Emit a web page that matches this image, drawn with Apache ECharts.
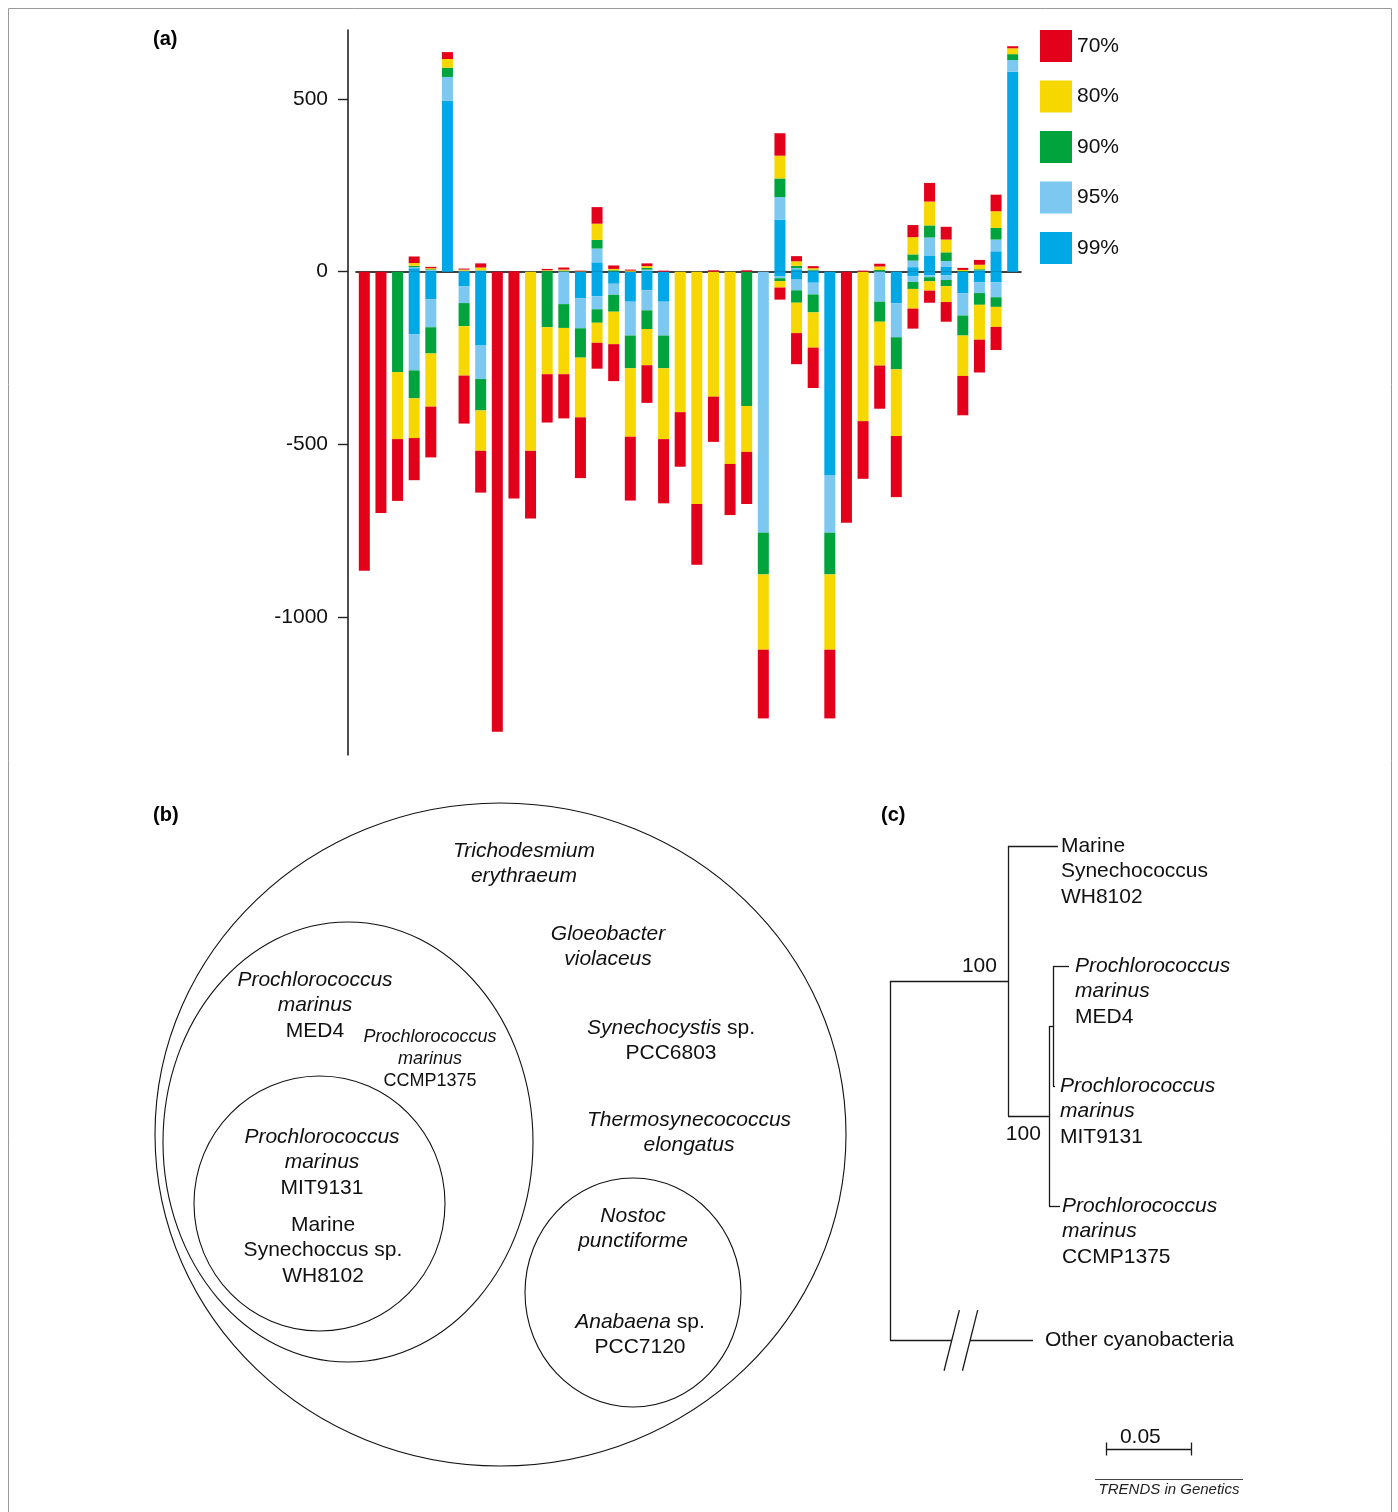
<!DOCTYPE html>
<html><head><meta charset="utf-8">
<script src="https://cdn.jsdelivr.net/npm/echarts@6/dist/echarts.min.js"></script>
<style>html,body{margin:0;padding:0;background:#fff}#c{width:1398px;height:1512px}</style>
</head><body><div id="c"></div>
<script>
// ---------- Panel (a) data: number of genes per identity class (stacked segment sizes) ----------
const categories = ['1','2','3','4','5','6','7','8','9','10','11','12','13','14','15','16','17','18','19','20',
  '21','22','23','24','25','26','27','28','29','30','31','32','33','34','35','36','37','38','39','40'];
const levelNames = ['70%','80%','90%','95%','99%'];
const yTickValues = [-1000, -500, 0, 500];

const pos99 = [0,0,0,10,3,495,1,2,0,0, 0,0,0,0,27,1,0,3,0,0, 0,0,0,0,0,151,7,3,0,0, 0,1,0,13,47,15,0,4,59,579];
const pos95 = [0,0,0,3,2,69,1,1,0,0, 0,0,1,0,40,0,0,3,0,0, 0,0,0,0,0,65,3,0,0,0, 0,0,0,19,52,16,0,0,34,34];
const pos90 = [0,0,0,4,2,27,1,1,0,0, 0,2,2,0,25,3,0,5,0,0, 0,0,0,0,0,54,7,3,0,0, 0,4,0,18,35,25,2,3,34,17];
const pos80 = [0,0,0,8,3,25,3,8,0,0, 0,2,3,1,47,4,3,5,0,0, 0,0,0,0,0,66,13,4,0,0, 0,10,0,50,69,37,3,13,48,17];
const pos70 = [0,0,0,19,4,20,3,12,0,2, 0,4,6,2,48,10,3,8,3,0, 0,4,0,4,0,65,15,6,0,0, 3,8,0,35,54,37,6,14,48,6];

const neg99 = [0,0,0,-181,-80,0,-42,-214,0,0, 0,0,0,-77,-71,-35,-87,-54,-87,0, 0,0,0,0,0,-14,-23,-32,-589,0, 0,0,-92,-13,-11,-11,-63,-31,-31,0];
const neg95 = [0,0,0,-105,-81,0,-49,-97,0,0, 0,0,-94,-87,-38,-32,-98,-58,-98,0, 0,0,0,0,-756,-5,-31,-34,-167,0, 0,-87,-98,-17,-5,-13,-64,-31,-43,0];
const neg90 = [0,0,-291,-81,-76,0,-67,-91,0,0, 0,-161,-69,-85,-39,-49,-95,-54,-95,0, 0,0,0,-389,-121,-8,-36,-52,-121,0, 0,-58,-93,-20,-12,-18,-58,-34,-28,0];
const neg80 = [0,0,-194,-115,-154,0,-143,-117,0,0, -519,-136,-134,-173,-58,-94,-198,-105,-205,-407, -673,-362,-557,-133,-218,-19,-88,-102,-218,0, -433,-127,-193,-57,-27,-46,-117,-101,-58,0];
const neg70 = [-866,-699,-179,-122,-147,0,-139,-121,-1333,-657, -196,-140,-128,-176,-75,-107,-185,-109,-186,-158, -176,-131,-148,-151,-199,-35,-90,-117,-199,-727, -167,-125,-177,-58,-35,-57,-114,-95,-67,0];

// ---------- Panel (c) data: phylogenetic tree ----------
const treeNodes  = ['root','A','WH8102','B','C','MED4','MIT9131','CCMP1375','Other'];
const treeParent = [-1, 0, 1, 1, 3, 4, 4, 3, 0];
const branchLen  = [0, 0.0694, 0.0294, 0.0241, 0.0024, 0.0094, 0.0012, 0.0065, 0.0841];
const leafSlot   = {2: 0, 5: 1, 6: 2, 7: 3, 8: 4.12};
const leafLabels = {
  2: '{n|Marine}\n{n|Synechococcus}\n{n|WH8102}',
  5: '{i|Prochlorococcus}\n{i|marinus}\n{n|MED4}',
  6: '{i|Prochlorococcus}\n{i|marinus}\n{n|MIT9131}',
  7: '{i|Prochlorococcus}\n{i|marinus}\n{n|CCMP1375}',
  8: '{n|Other cyanobacteria}'
};
const bootstrapNodes = [1, 3];
const bootstrapVals  = [100, 100];
const brokenBranchGap = [0.0363, 0.0471];
const scaleBarLen = 0.05;

// ---------- Panel (b) text ----------
const vennTexts = [
  '{i|Trichodesmium}\n{i|erythraeum}',
  '{i|Gloeobacter}\n{i|violaceus}',
  '{i|Synechocystis}{n| sp.}\n{n|PCC6803}',
  '{i|Thermosynecococcus}\n{i|elongatus}',
  '{i|Nostoc}\n{i|punctiforme}',
  '{i|Anabaena}{n| sp.}\n{n|PCC7120}',
  '{i|Prochlorococcus}\n{i|marinus}\n{n|MED4}',
  '{i|Prochlorococcus}\n{i|marinus}\n{n|MIT9131}',
  '{n|Marine}\n{n|Synechoccus sp.}\n{n|WH8102}'
];
const vennSmallText = '{i|Prochlorococcus}\n{i|marinus}\n{n|CCMP1375}';

// ---------- build ----------
const FONT = '"Liberation Sans", Arial, Helvetica, sans-serif';
const colors = {'70%':'#e2001a','80%':'#f6d800','90%':'#00a33c','95%':'#7cc8f0','99%':'#00a8e6'};
const posData = {'99%':pos99,'95%':pos95,'90%':pos90,'80%':pos80,'70%':pos70};
const negData = {'99%':neg99,'95%':neg95,'90%':neg90,'80%':neg80,'70%':neg70};
const stackOrder = ['99%','95%','90%','80%','70%'];

const series = [];
stackOrder.forEach(l => {
  [posData[l], negData[l]].forEach(arr => {
    series.push({
      type: 'bar', name: l, stack: 'genes', barWidth: 11,
      xAxisIndex: 0, yAxisIndex: 0,
      itemStyle: {color: colors[l]},
      data: arr.map(v => v === 0 ? '-' : v)
    });
  });
});

// tree layout
const N = treeNodes.length;
const tx = new Array(N).fill(0), ty = new Array(N).fill(0);
const children = treeNodes.map(() => []);
for (let i = 1; i < N; i++) children[treeParent[i]].push(i);
for (let i = 1; i < N; i++) tx[i] = tx[treeParent[i]] + branchLen[i];
function setY(i) {
  if (children[i].length === 0) { ty[i] = leafSlot[i]; return ty[i]; }
  const ys = children[i].map(setY);
  ty[i] = ys.reduce((a, b) => a + b, 0) / ys.length;
  return ty[i];
}
setY(0);
const segs = [];
for (let i = 1; i < N; i++) {
  const p = treeParent[i];
  if (treeNodes[i] === 'Other') {
    segs.push([[tx[p], ty[i]], [brokenBranchGap[0], ty[i]]]);
    segs.push([[brokenBranchGap[1], ty[i]], [tx[i], ty[i]]]);
    brokenBranchGap.forEach(g => segs.push([[g - 0.0045, ty[i] + 0.253], [g + 0.0045, ty[i] - 0.253]]));
  } else {
    segs.push([[tx[p], ty[i]], [tx[i], ty[i]]]);
  }
}
for (let i = 0; i < N; i++) {
  if (children[i].length) {
    const ys = children[i].map(c => ty[c]);
    segs.push([[tx[i], Math.min(...ys)], [tx[i], Math.max(...ys)]]);
  }
}
// scale bar
const sbX0 = 0.127, sbY = 5.025;
segs.push([[sbX0, sbY], [sbX0 + scaleBarLen, sbY]]);
segs.push([[sbX0, sbY - 0.054], [sbX0, sbY + 0.054]]);
segs.push([[sbX0 + scaleBarLen, sbY - 0.054], [sbX0 + scaleBarLen, sbY + 0.054]]);

series.push({
  type: 'lines', coordinateSystem: 'cartesian2d', xAxisIndex: 1, yAxisIndex: 1,
  silent: true, clip: false,
  lineStyle: {color: '#1a1a1a', width: 1.3, opacity: 1},
  data: segs.map(s => ({coords: s}))
});

const txtBase = {fontFamily: FONT, color: '#111', textBorderWidth: 0, textBorderColor: 'transparent', textShadowBlur: 0, opacity: 1};
const richTree = {
  i: Object.assign({fontStyle: 'italic', fontSize: 21, lineHeight: 25.5}, txtBase),
  n: Object.assign({fontSize: 21, lineHeight: 25.5}, txtBase)
};
const leafOffset = {2: 3, 5: 6, 6: 5, 7: 2, 8: 12};
series.push({
  type: 'scatter', xAxisIndex: 1, yAxisIndex: 1, symbolSize: 0.1, silent: true,
  itemStyle: {color: '#000', opacity: 0},
  data: Object.keys(leafLabels).map(k => ({
    value: [tx[k], ty[k]],
    label: Object.assign({show: true, formatter: leafLabels[k], position: [leafOffset[k], -12.75],
            align: 'left', verticalAlign: 'top', rich: richTree, fontSize: 21}, txtBase)
  })).concat(bootstrapNodes.map((n, j) => ({
    value: [tx[n], ty[n]],
    label: Object.assign({show: true, formatter: String(bootstrapVals[j]),
            position: j === 0 ? [-11, -15] : [-8, 18],
            align: 'right', verticalAlign: 'middle', fontSize: 21}, txtBase)
  }))).concat([{
    value: [sbX0 + scaleBarLen / 2, sbY],
    label: Object.assign({show: true, formatter: String(scaleBarLen), position: [-8, -12],
            align: 'center', verticalAlign: 'middle', fontSize: 21}, txtBase)
  }])
});

// Venn graphics
const rich = (fs, lh) => ({
  i: {fontStyle: 'italic', fontSize: fs, fontFamily: FONT, fill: '#111', lineHeight: lh},
  n: {fontSize: fs, fontFamily: FONT, fill: '#111', lineHeight: lh}
});
const vennPos = [[524,851],[608,934],[671,1028],[689,1120],[633,1216],[640,1322],[315,980],[322,1137],[323,1225]];
const graphics = [];
graphics.push({type: 'rect', shape: {x: 8.5, y: 8.5, width: 1383, height: 1530}, style: {fill: 'none', stroke: '#9a9a9a', lineWidth: 1}, silent: true});
[[500.5,1134.5,345.5,331.5],[348,1142,185,220],[319.5,1203.5,125.5,127.5],[633,1292.5,108,114.5]].forEach(e => {
  graphics.push({type: 'ellipse', shape: {cx: e[0], cy: e[1], rx: e[2], ry: e[3]}, style: {fill: 'none', stroke: '#111', lineWidth: 1.1}, silent: true});
});
vennTexts.forEach((t, i) => {
  graphics.push({type: 'text', x: vennPos[i][0], y: vennPos[i][1] - 12.75, silent: true,
    style: {text: t, rich: rich(21, 25.5), align: 'center', verticalAlign: 'top', font: '21px ' + FONT}});
});
graphics.push({type: 'text', x: 430, y: 1037 - 11, silent: true,
  style: {text: vennSmallText, rich: rich(18, 22), align: 'center', verticalAlign: 'top', font: '18px ' + FONT}});
[['(a)',153,39],['(b)',153,815],['(c)',881,815]].forEach(p => {
  graphics.push({type: 'text', x: p[1], y: p[2], silent: true,
    style: {text: p[0], font: 'bold 20px ' + FONT, fill: '#000', align: 'left', verticalAlign: 'middle'}});
});
graphics.push({type: 'line', shape: {x1: 1095, y1: 1479.5, x2: 1243, y2: 1479.5}, style: {stroke: '#444', lineWidth: 1}, silent: true});
graphics.push({type: 'text', x: 1169, y: 1490, silent: true,
  style: {text: 'TRENDS in Genetics', font: 'italic 15px ' + FONT, fill: '#222', align: 'center', verticalAlign: 'middle'}});

const chart = echarts.init(document.getElementById('c'), null, {renderer: 'canvas'});
chart.setOption({
  animation: false,
  backgroundColor: '#fff',
  textStyle: {fontFamily: FONT},
  legend: {
    data: levelNames, orient: 'vertical', left: 1040, top: 30, padding: 0,
    itemWidth: 32, itemHeight: 32, itemGap: 18.5, icon: 'rect', selectedMode: false,
    textStyle: {fontSize: 21, color: '#111', fontFamily: FONT}
  },
  grid: [
    {left: 356, top: 30, width: 665, height: 725},
    {left: 890, top: 846, width: 425, height: 660}
  ],
  xAxis: [
    {type: 'category', gridIndex: 0, data: categories, boundaryGap: true,
     axisLine: {onZero: true, lineStyle: {color: '#000', width: 1.6}},
     axisTick: {show: false}, axisLabel: {show: false}, splitLine: {show: false}},
    {type: 'value', gridIndex: 1, min: 0, max: 0.25, show: false}
  ],
  yAxis: [
    {type: 'value', gridIndex: 0, min: -1400, max: 700, offset: 8,
     axisLine: {show: true, onZero: false, lineStyle: {color: '#222', width: 1.6}},
     axisTick: {show: true, length: 10, customValues: yTickValues, lineStyle: {color: '#222', width: 1.4}},
     axisLabel: {customValues: yTickValues, margin: 20, fontSize: 21, color: '#111', fontFamily: FONT,
                 formatter: v => String(v)},
     splitLine: {show: false}},
    {type: 'value', gridIndex: 1, min: 0, max: 5.5, inverse: true, show: false}
  ],
  graphic: graphics,
  series: series
});
</script></body></html>
